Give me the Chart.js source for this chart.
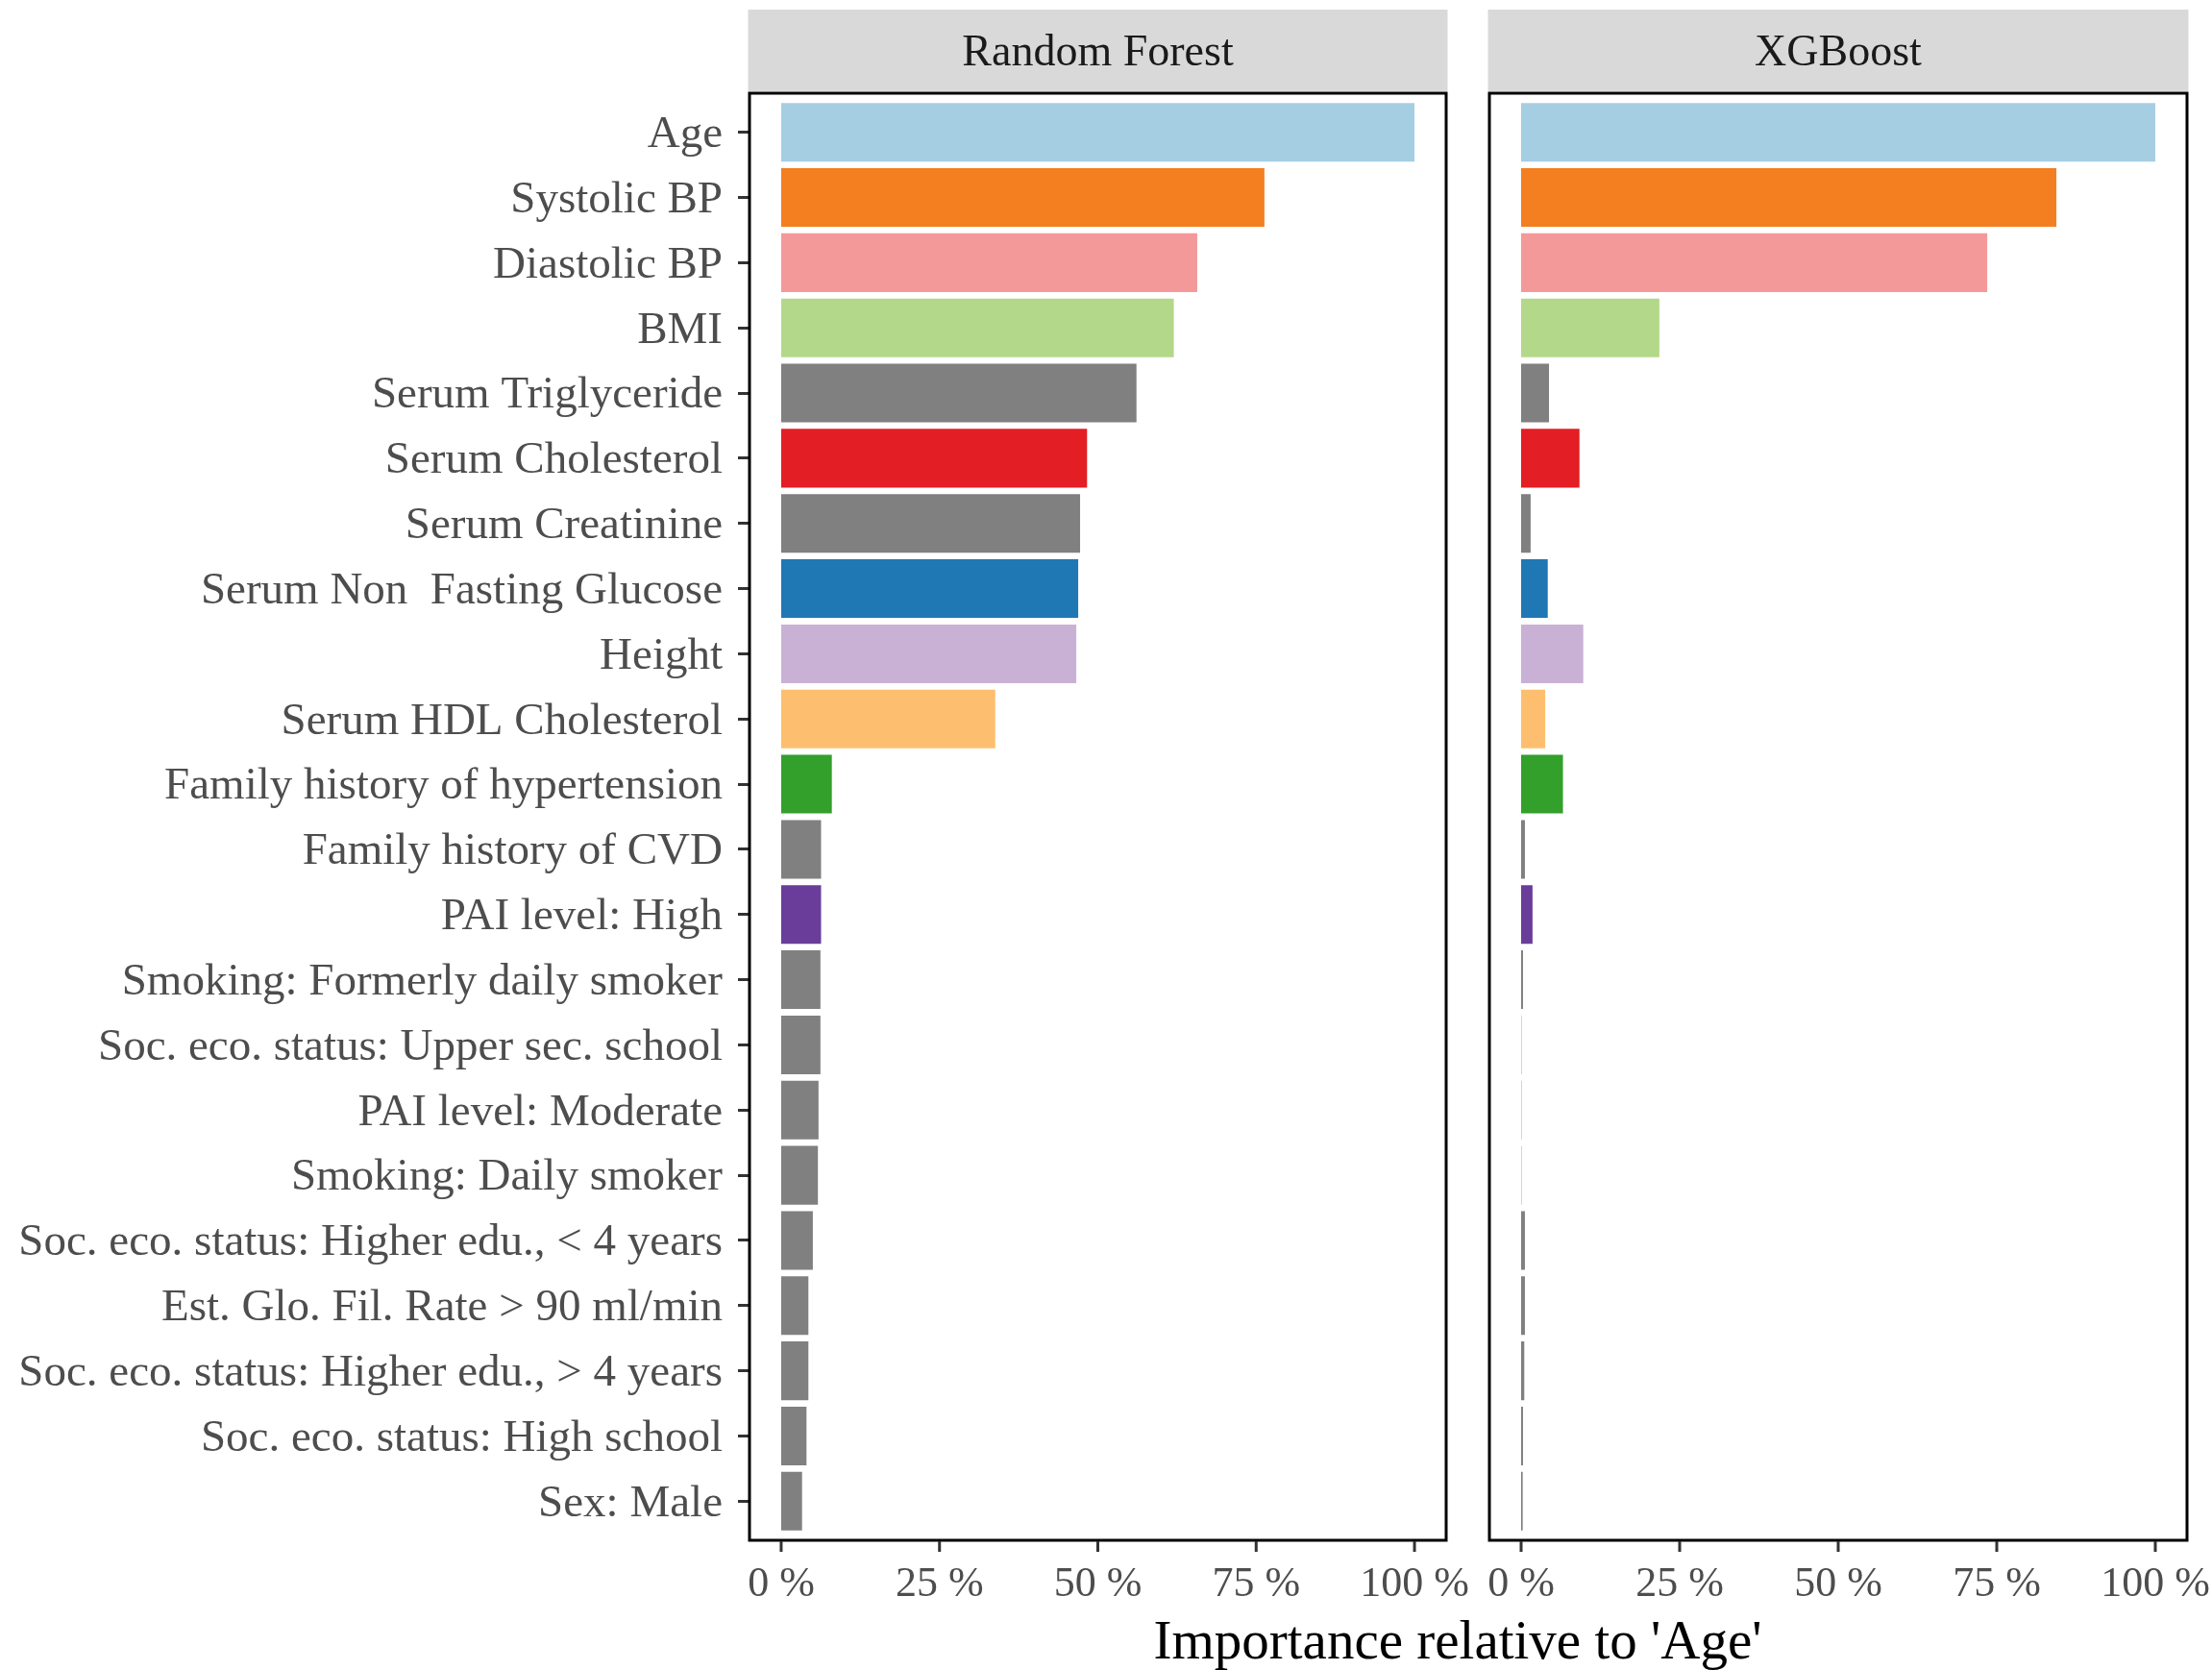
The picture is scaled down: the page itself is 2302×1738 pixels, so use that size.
<!DOCTYPE html>
<html>
<head>
<meta charset="utf-8">
<title>Feature importance relative to Age</title>
<script src="https://cdn.jsdelivr.net/npm/chart.js@4.4.1/dist/chart.umd.min.js"></script>
<style>
  html, body { margin: 0; padding: 0; background: #ffffff; }
  #figure { position: relative; width: 2302px; height: 1738px; overflow: hidden; background: #ffffff; }
  #figure canvas { position: absolute; left: 0; top: 0; }
  #xtitle {
    position: absolute; left: 1017px; width: 1000px; top: 1674px; height: 66px;
    line-height: 66px; text-align: center; white-space: nowrap;
    font-family: "Liberation Serif", "DejaVu Serif", serif; font-size: 57px; color: #000000;
  }
</style>
</head>
<body>
<div id="figure">
  <canvas id="rfChart" width="2302" height="1738"></canvas>
  <canvas id="xgbChart" width="2302" height="1738"></canvas>
  <div id="xtitle">Importance relative to 'Age'</div>
</div>
<script>
// Predictors, top to bottom
const features = [
  "Age",
  "Systolic BP",
  "Diastolic BP",
  "BMI",
  "Serum Triglyceride",
  "Serum Cholesterol",
  "Serum Creatinine",
  "Serum Non  Fasting Glucose",
  "Height",
  "Serum HDL Cholesterol",
  "Family history of hypertension",
  "Family history of CVD",
  "PAI level: High",
  "Smoking: Formerly daily smoker",
  "Soc. eco. status: Upper sec. school",
  "PAI level: Moderate",
  "Smoking: Daily smoker",
  "Soc. eco. status: Higher edu., < 4 years",
  "Est. Glo. Fil. Rate > 90 ml/min",
  "Soc. eco. status: Higher edu., > 4 years",
  "Soc. eco. status: High school",
  "Sex: Male"
];

// Importance relative to Age (%)
const randomForest = [100, 76.3, 65.7, 62.0, 56.1, 48.3, 47.2, 46.9, 46.6, 33.8,
                      8.0, 6.3, 6.3, 6.2, 6.2, 5.9, 5.8, 5.0, 4.3, 4.3, 4.0, 3.3];
const xgboost      = [100, 84.4, 73.5, 21.8, 4.4, 9.2, 1.5, 4.2, 9.8, 3.8,
                      6.6, 0.6, 1.8, 0.3, 0.05, 0.05, 0.05, 0.6, 0.6, 0.5, 0.3, 0.25];

// One fill per predictor
const barColors = [
  "#A6CEE3", "#F37F20", "#F4999A", "#B3D88A", "#808080", "#E31E24", "#808080",
  "#1F78B4", "#C9B1D6", "#FDBF6F", "#33A02C", "#808080", "#6A3D9A", "#808080",
  "#808080", "#808080", "#808080", "#808080", "#808080", "#808080", "#808080", "#808080"
];

const tickValues = [0, 25, 50, 75, 100];
const panelTitles = ["Random Forest", "XGBoost"];

// ---- layout ----
const W = 2302, H = 1738;
const SERIF = '"Liberation Serif", "DejaVu Serif", serif';
const PANEL_TOP = 97, PANEL_BOTTOM = 1603;
const STRIP_TOP = 10, STRIP_BOTTOM = 95;
// discrete axis padded by 0.6 of a category on each side
const UNIT = (PANEL_BOTTOM - PANEL_TOP) / (features.length + 0.2);
const INSET = 0.1 * UNIT;
const AREA_TOP = PANEL_TOP + INSET;
const AREA_BOTTOM = PANEL_BOTTOM - INSET;
const panels = [
  { left: 780, right: 1505 },
  { left: 1550, right: 2276 }
];

// Strip header, panel frame and x tick marks
const facetFrame = {
  id: "facetFrame",
  afterDraw(chart, args, opts) {
    const ctx = chart.ctx;
    const { left, right } = chart.chartArea;
    ctx.save();
    // strip
    ctx.fillStyle = "#D9D9D9";
    ctx.fillRect(left - 1.5, STRIP_TOP, right - left + 3, STRIP_BOTTOM - STRIP_TOP);
    ctx.fillStyle = "#1A1A1A";
    ctx.font = "46px " + SERIF;
    ctx.textAlign = "center";
    ctx.textBaseline = "middle";
    ctx.fillText(opts.title, (left + right) / 2, (STRIP_TOP + STRIP_BOTTOM) / 2 + 3);
    // frame
    ctx.strokeStyle = "#000000";
    ctx.lineWidth = 3;
    ctx.strokeRect(left, PANEL_TOP, right - left, PANEL_BOTTOM - PANEL_TOP);
    // x tick marks
    const xs = chart.scales.x;
    ctx.strokeStyle = "#333333";
    ctx.lineWidth = 3;
    tickValues.forEach(v => {
      const px = xs.getPixelForValue(v);
      ctx.beginPath();
      ctx.moveTo(px, PANEL_BOTTOM + 1);
      ctx.lineTo(px, PANEL_BOTTOM + 12);
      ctx.stroke();
    });
    ctx.restore();
  }
};

function makePanel(canvasId, values, panelIndex, showLabels) {
  const p = panels[panelIndex];
  return new Chart(document.getElementById(canvasId), {
    type: "bar",
    data: {
      labels: features,
      datasets: [{
        data: values,
        backgroundColor: barColors,
        borderWidth: 0,
        barPercentage: 0.9,
        categoryPercentage: 1.0
      }]
    },
    options: {
      indexAxis: "y",
      responsive: false,
      animation: false,
      devicePixelRatio: 1,
      layout: {
        padding: {
          left: showLabels ? 0 : p.left,
          right: W - p.right,
          top: AREA_TOP,
          bottom: 0
        }
      },
      plugins: {
        legend: { display: false },
        tooltip: { enabled: false },
        facetFrame: { title: panelTitles[panelIndex] }
      },
      scales: {
        x: {
          type: "linear",
          min: -5,
          max: 105,
          afterBuildTicks: s => { s.ticks = tickValues.map(v => ({ value: v })); },
          afterFit: s => {
            s.height = H - AREA_BOTTOM;
            s.paddingLeft = 0;
            s.paddingRight = 0;
          },
          grid: { display: false, drawTicks: false },
          border: { display: false },
          ticks: {
            autoSkip: false,
            maxRotation: 0,
            padding: 27,
            color: "#4D4D4D",
            font: { family: SERIF, size: 44 },
            callback: v => v + " %"
          }
        },
        y: {
          type: "category",
          display: showLabels,
          offset: true,
          afterFit: s => {
            if (showLabels) s.width = p.left;
            s.paddingTop = 0;
            s.paddingBottom = 0;
          },
          grid: {
            display: true,
            drawOnChartArea: false,
            drawTicks: true,
            tickLength: 12,
            lineWidth: 3,
            color: "#333333",
            offset: false
          },
          border: { display: false },
          ticks: {
            autoSkip: false,
            padding: 16,
            labelOffset: 3,
            color: "#4D4D4D",
            font: { family: SERIF, size: 47 }
          }
        }
      }
    },
    plugins: [facetFrame]
  });
}

makePanel("rfChart", randomForest, 0, true);
makePanel("xgbChart", xgboost, 1, false);
</script>
</body>
</html>
